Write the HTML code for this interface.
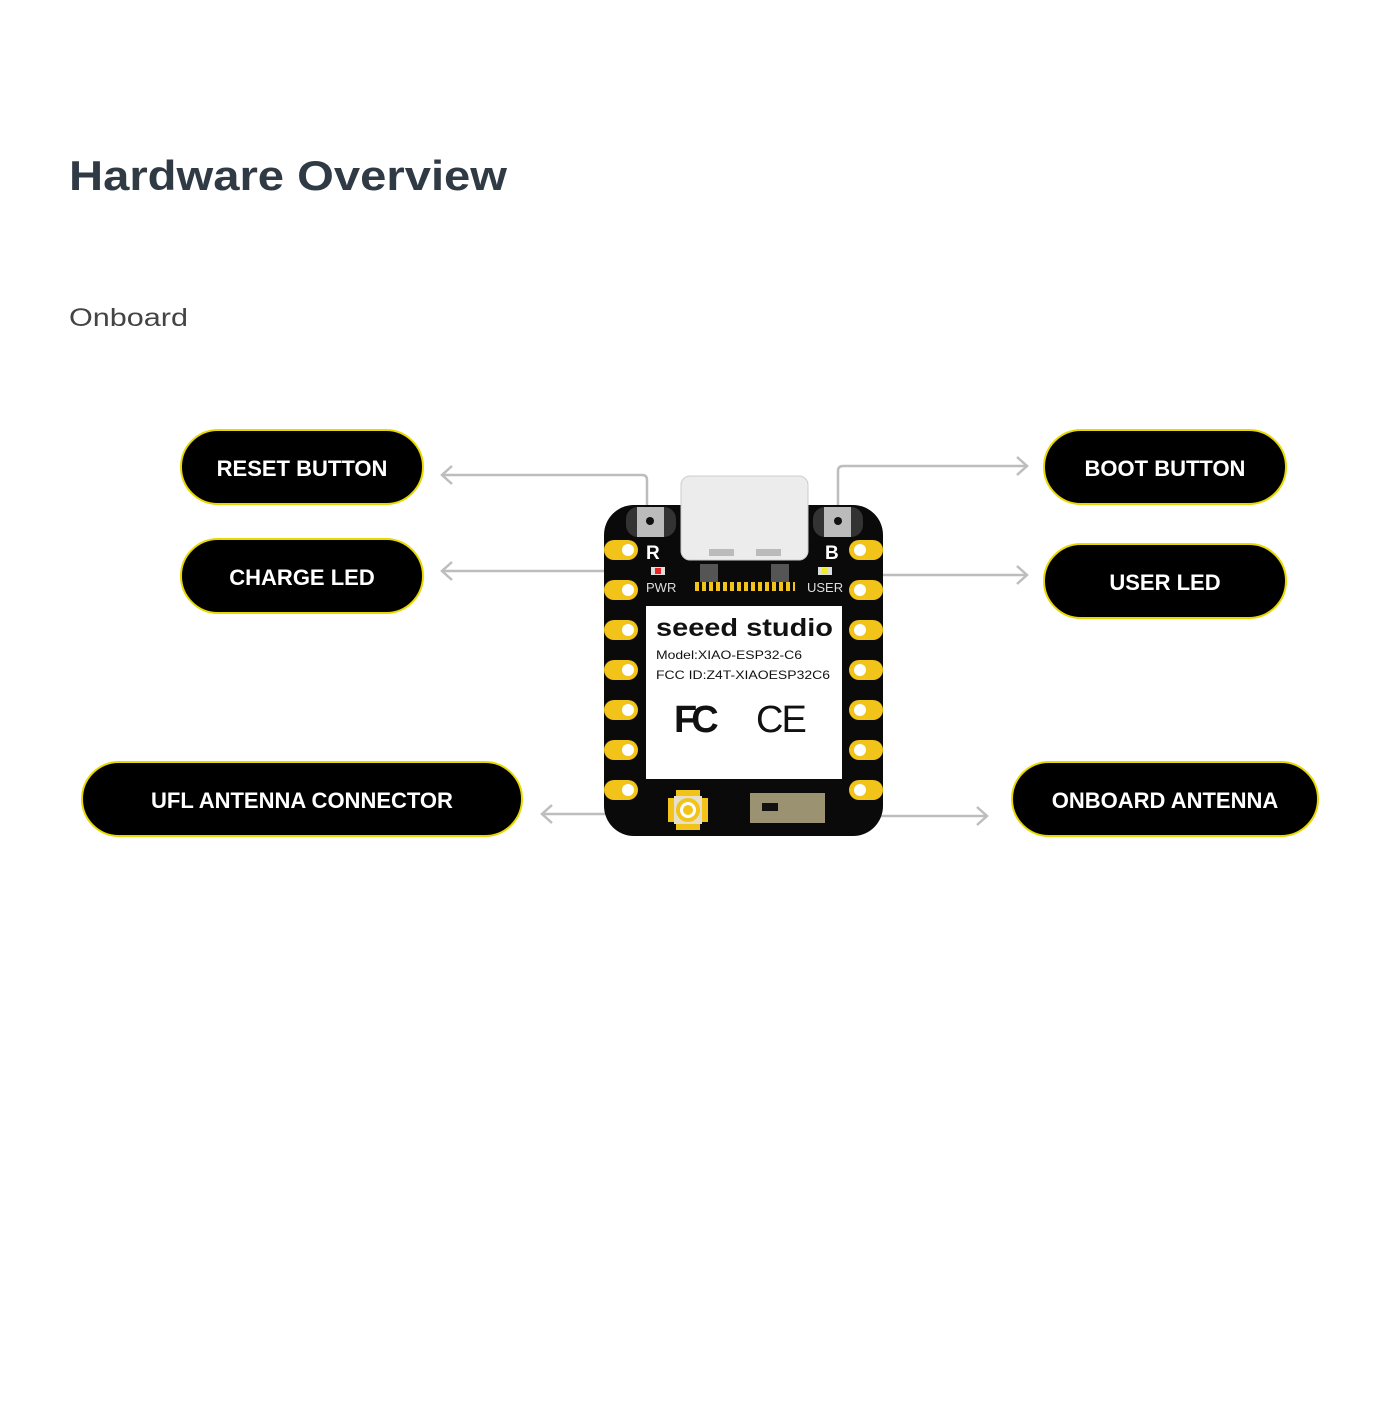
<!DOCTYPE html>
<html><head><meta charset="utf-8"><style>
body{margin:0;background:#fff;width:1400px;height:1400px;overflow:hidden;font-family:"Liberation Sans",sans-serif}
</style></head><body>
<svg width="1400" height="1400" viewBox="0 0 1400 1400" xmlns="http://www.w3.org/2000/svg">
<text x="69" y="190" font-family="Liberation Sans" font-weight="bold" font-size="42" fill="#2f3a45" textLength="438" lengthAdjust="spacingAndGlyphs">Hardware Overview</text>
<text x="69" y="326" font-family="Liberation Sans" font-size="25" fill="#444" textLength="119" lengthAdjust="spacingAndGlyphs">Onboard</text>

<g fill="#000" stroke="#e8d800" stroke-width="2">
<rect x="181" y="430" width="242" height="74" rx="37"/>
<rect x="181" y="539" width="242" height="74" rx="37"/>
<rect x="1044" y="430" width="242" height="74" rx="37"/>
<rect x="1044" y="544" width="242" height="74" rx="37"/>
<rect x="82" y="762" width="440" height="74" rx="37"/>
<rect x="1012" y="762" width="306" height="74" rx="37"/>
</g>
<g font-family="Liberation Sans" font-weight="bold" font-size="22" fill="#fff" text-anchor="middle">
<text x="302" y="476">RESET BUTTON</text>
<text x="302" y="585">CHARGE LED</text>
<text x="1165" y="476">BOOT BUTTON</text>
<text x="1165" y="590">USER LED</text>
<text x="302" y="808">UFL ANTENNA CONNECTOR</text>
<text x="1165" y="808">ONBOARD ANTENNA</text>
</g>

<g fill="none" stroke="#bdbdbd" stroke-width="2.5">
<path d="M647 510V480q0-5-5-5H442"/><path d="M452 466l-10 9 10 9"/>
<path d="M642 571H442"/><path d="M452 562l-10 9 10 9"/>
<path d="M838 510V471q0-5 5-5H1027"/><path d="M1017 457l10 9-10 9"/>
<path d="M845 575H1027"/><path d="M1017 566l10 9-10 9"/>
<path d="M660 814H542"/><path d="M552 805l-10 9 10 9"/>
<path d="M880 816H987"/><path d="M977 807l10 9-10 9"/>
</g>

<!-- board -->
<rect x="604" y="505" width="279" height="331" rx="30" fill="#0a0a0a"/>
<g fill="#f2c318">
<rect x="604" y="540" width="34" height="20" rx="10"/><rect x="604" y="580" width="34" height="20" rx="10"/>
<rect x="604" y="620" width="34" height="20" rx="10"/><rect x="604" y="660" width="34" height="20" rx="10"/>
<rect x="604" y="700" width="34" height="20" rx="10"/><rect x="604" y="740" width="34" height="20" rx="10"/>
<rect x="604" y="780" width="34" height="20" rx="10"/>
<rect x="849" y="540" width="34" height="20" rx="10"/><rect x="849" y="580" width="34" height="20" rx="10"/>
<rect x="849" y="620" width="34" height="20" rx="10"/><rect x="849" y="660" width="34" height="20" rx="10"/>
<rect x="849" y="700" width="34" height="20" rx="10"/><rect x="849" y="740" width="34" height="20" rx="10"/>
<rect x="849" y="780" width="34" height="20" rx="10"/>
</g>
<g fill="#fff">
<circle cx="628" cy="550" r="6"/><circle cx="628" cy="590" r="6"/><circle cx="628" cy="630" r="6"/><circle cx="628" cy="670" r="6"/><circle cx="628" cy="710" r="6"/><circle cx="628" cy="750" r="6"/><circle cx="628" cy="790" r="6"/>
<circle cx="860" cy="550" r="6"/><circle cx="860" cy="590" r="6"/><circle cx="860" cy="630" r="6"/><circle cx="860" cy="670" r="6"/><circle cx="860" cy="710" r="6"/><circle cx="860" cy="750" r="6"/><circle cx="860" cy="790" r="6"/>
</g>
<rect x="626" y="507" width="50" height="30" rx="12" fill="#333"/>
<rect x="637" y="507" width="27" height="30" fill="#bbb"/><circle cx="650" cy="521" r="4" fill="#111"/>
<rect x="813" y="507" width="50" height="30" rx="12" fill="#333"/>
<rect x="824" y="507" width="27" height="30" fill="#bbb"/><circle cx="838" cy="521" r="4" fill="#111"/>
<text x="646" y="559" font-weight="bold" font-size="19" fill="#fff">R</text>
<text x="825" y="559" font-weight="bold" font-size="19" fill="#fff">B</text>
<rect x="651" y="567" width="14" height="8" fill="#ddd"/><rect x="655" y="568" width="6" height="6" fill="#e22"/>
<rect x="818" y="567" width="14" height="8" fill="#ddd"/><rect x="822" y="568" width="6" height="6" fill="#ee2"/>
<text x="646" y="592" font-size="13" fill="#ddd">PWR</text>
<text x="807" y="592" font-size="13" fill="#ddd">USER</text>
<g fill="#f2c318"><rect x="695" y="582" width="100" height="9"/></g>
<g fill="#0a0a0a"><rect x="699" y="582" width="3" height="9"/><rect x="706" y="582" width="3" height="9"/><rect x="713" y="582" width="3" height="9"/><rect x="720" y="582" width="3" height="9"/><rect x="727" y="582" width="3" height="9"/><rect x="734" y="582" width="3" height="9"/><rect x="741" y="582" width="3" height="9"/><rect x="748" y="582" width="3" height="9"/><rect x="755" y="582" width="3" height="9"/><rect x="762" y="582" width="3" height="9"/><rect x="769" y="582" width="3" height="9"/><rect x="776" y="582" width="3" height="9"/><rect x="783" y="582" width="3" height="9"/><rect x="790" y="582" width="3" height="9"/></g>
<rect x="681" y="476" width="127" height="84" rx="9" fill="#ececec" stroke="#ccc"/>
<rect x="709" y="549" width="25" height="7" fill="#bbb"/><rect x="756" y="549" width="25" height="7" fill="#bbb"/>
<rect x="700" y="564" width="18" height="18" fill="#555"/><rect x="771" y="564" width="18" height="18" fill="#555"/>
<rect x="646" y="606" width="196" height="173" fill="#fff"/>
<text x="656" y="636" font-weight="bold" font-size="25" fill="#111" textLength="177" lengthAdjust="spacingAndGlyphs">seeed studio</text>
<text x="656" y="659" font-size="12" fill="#111" textLength="146" lengthAdjust="spacingAndGlyphs">Model:XIAO-ESP32-C6</text>
<text x="656" y="679" font-size="12" fill="#111" textLength="174" lengthAdjust="spacingAndGlyphs">FCC ID:Z4T-XIAOESP32C6</text>
<text x="674" y="732" font-weight="bold" font-size="38" fill="#111" letter-spacing="-6">FC</text>
<text x="756" y="732" font-size="38" fill="#111" letter-spacing="-2">CE</text>
<rect x="676" y="790" width="24" height="40" fill="#f2c318"/><rect x="668" y="798" width="40" height="24" fill="#f2c318"/>
<rect x="674" y="796" width="28" height="28" fill="#e6dfcc"/>
<circle cx="688" cy="810" r="12" fill="#f2c318"/><circle cx="688" cy="810" r="8" fill="#fff"/><circle cx="688" cy="810" r="5" fill="#f2c318"/>
<rect x="750" y="793" width="75" height="30" fill="#9a9270"/>
<rect x="762" y="803" width="16" height="8" fill="#111"/>
</svg>
</body></html>
